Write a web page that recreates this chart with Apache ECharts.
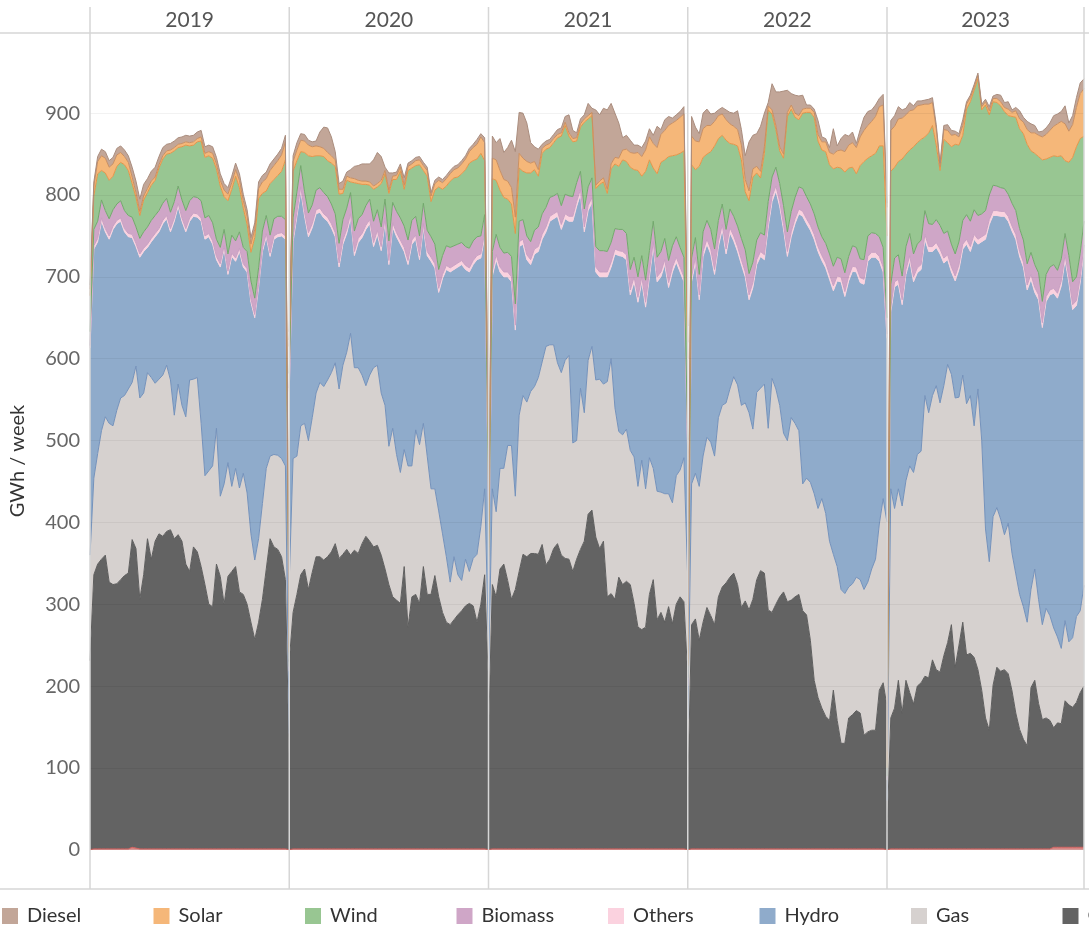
<!DOCTYPE html>
<html>
<head>
<meta charset="utf-8">
<script src="https://cdn.jsdelivr.net/npm/echarts@6/dist/echarts.min.js"></script>
<style>
  html, body { margin: 0; padding: 0; background: #fff; }
  #chart { width: 1089px; height: 930px; }
</style>
</head>
<body>
<div id="chart"></div>
<script>
// years shown as facets, weekly points per year (first and last week are partial)
const years = ['2019', '2020', '2021', '2022', '2023'];
const weeks = [1, 2, 3, 4, 5, 6, 7, 8, 9, 10, 11, 12, 13, 14, 15, 16, 17, 18, 19, 20,
  21, 22, 23, 24, 25, 26, 27, 28, 29, 30, 31, 32, 33, 34, 35, 36, 37, 38, 39, 40,
  41, 42, 43, 44, 45, 46, 47, 48, 49, 50, 51, 52, 53];
const yTicks = [0, 100, 200, 300, 400, 500, 600, 700, 800, 900];

// GWh per week, one row per year
const oil = [
  [0,1,1,1,1,1,1,1,1,1, 1,3,2,1,1,1,1,1,1,1, 1,1,1,1,1,1,1,1,1,1, 1,1,1,1,1,1,1,1,1,1, 1,1,1,1,1,1,1,1,1,1, 1,1,0],
  [0,1,1,1,1,1,1,1,1,1, 1,1,1,1,1,1,1,1,1,1, 1,1,1,1,1,1,1,1,1,1, 1,1,1,1,1,1,1,1,1,1, 1,1,1,1,1,1,1,1,1,1, 1,1,0],
  [0,1,1,1,1,1,1,1,1,1, 1,1,1,1,1,1,1,1,1,1, 1,1,1,1,1,1,1,1,1,1, 1,1,1,1,1,1,1,1,1,1, 1,1,1,1,1,1,1,1,1,1, 1,1,0],
  [0,1,1,1,1,1,1,1,1,1, 1,1,1,1,1,1,1,1,1,1, 1,1,1,1,1,1,1,1,1,1, 1,1,1,1,1,1,1,1,1,1, 1,1,1,1,1,1,1,1,1,1, 1,1,0],
  [0,1,1,1,1,1,1,1,1,1, 1,1,1,1,1,1,1,1,1,1, 1,1,1,1,1,1,1,1,1,1, 1,1,1,1,1,1,1,1,1,1, 1,1,1,1,3,3,3,3,3,3, 3,3,3]
];
const coal = [
  [231,335,348,354,359,326,323,324,329,334,337,376,366,305,335,379,354,376,385,382,388,390,379,384,376,348,339,369,363,345,323,299,296,348,333,299,333,339,345,314,311,299,277,256,277,305,342,379,369,366,357,329,102],
  [230,289,311,335,342,317,338,357,357,353,357,363,373,355,360,366,359,365,361,373,382,376,369,371,359,342,323,308,304,300,345,271,308,311,300,345,311,311,334,308,289,277,274,280,286,291,297,300,297,277,299,335,200],
  [139,323,308,342,348,328,305,317,339,360,357,361,361,360,372,347,354,367,373,359,355,354,339,354,366,376,409,414,381,367,376,308,312,305,332,323,327,323,300,271,268,271,311,329,280,289,277,296,275,299,308,302,212],
  [74,274,281,255,277,295,285,274,308,320,325,332,337,323,295,303,292,305,329,340,337,292,289,299,308,314,302,304,308,311,291,286,255,206,185,172,162,157,194,157,129,129,160,164,169,166,139,143,145,145,194,203,175],
  [22,160,172,206,166,206,191,177,199,203,211,209,231,219,216,236,252,274,222,249,277,237,239,234,219,194,160,145,200,222,217,219,214,193,166,146,134,126,197,206,178,158,160,157,146,152,151,179,174,171,177,189,197]
];
const gas = [
  [129,118,135,157,169,194,194,212,222,220,225,192,223,246,222,203,222,193,189,197,203,183,151,184,166,180,234,205,213,175,133,163,172,166,98,147,139,104,120,127,148,136,108,97,102,117,123,101,113,115,120,139,40],
  [100,188,169,182,178,182,189,200,213,212,216,219,221,207,231,241,271,223,227,206,184,203,219,220,198,200,169,206,178,160,143,197,160,201,194,175,169,129,106,105,96,80,52,77,49,37,57,39,58,83,95,105,55],
  [76,117,104,123,117,165,188,114,191,194,189,198,204,216,223,267,262,249,221,223,242,249,157,145,197,157,188,200,192,207,192,263,287,234,178,183,186,164,179,172,207,169,167,136,157,147,157,138,148,157,155,176,118],
  [86,172,178,188,203,208,212,206,219,222,220,230,240,244,247,242,241,208,229,223,231,222,286,263,234,194,197,223,212,200,155,167,193,228,231,256,248,219,166,188,188,183,160,160,163,163,178,183,197,209,203,225,225],
  [38,280,244,234,253,244,277,283,283,283,343,324,323,347,329,330,340,306,329,303,302,307,315,283,343,305,231,206,206,195,186,165,184,168,170,165,162,151,120,136,127,116,134,128,122,105,92,98,77,85,105,100,123]
];
const hydro = [
  [253,280,259,256,226,225,240,228,216,200,186,177,146,172,173,153,166,179,180,185,179,181,237,217,225,226,194,199,196,247,289,286,271,206,280,287,230,281,253,289,252,270,283,296,307,308,283,244,263,267,272,277,76],
  [230,265,293,287,253,249,232,219,208,206,194,177,154,149,148,145,141,137,153,168,191,185,148,160,174,224,222,246,266,279,242,246,271,233,226,239,245,278,270,267,312,351,379,351,376,386,354,366,359,360,328,308,165],
  [105,260,308,240,234,206,200,203,206,185,174,155,162,154,150,140,151,154,179,175,173,164,271,286,237,221,183,176,132,125,131,128,112,188,215,218,207,190,214,225,218,222,221,271,256,263,280,252,282,261,242,215,150],
  [40,247,258,228,244,236,230,222,209,215,182,191,166,163,172,154,138,173,156,161,152,246,216,242,243,249,225,221,244,265,327,311,308,311,314,291,300,320,322,349,376,363,374,382,373,363,373,392,381,369,321,277,225],
  [25,216,271,250,246,252,251,233,222,222,191,197,176,169,182,150,128,125,143,156,154,195,176,228,177,243,354,412,368,357,370,389,369,394,409,413,415,406,379,338,366,363,375,392,409,414,443,441,439,401,380,401,410]
];
const others = [
  [3,4,4,4,4,4,4,4,4,4, 4,4,4,4,4,4,4,4,4,4, 4,4,4,4,4,4,4,4,4,4, 4,4,4,4,4,4,4,4,4,4, 4,4,4,4,4,4,4,4,4,4, 4,4,1],
  [4,5,5,5,5,5,5,5,5,5, 5,5,5,5,5,5,5,5,5,5, 5,5,5,5,5,5,5,5,5,5, 5,5,5,5,5,5,5,5,5,5, 5,5,5,5,5,5,5,5,5,5, 5,5,3],
  [3,6,6,6,6,6,6,6,6,6, 6,6,6,6,6,6,6,6,6,6, 6,6,6,6,6,6,6,6,6,6, 6,6,6,6,6,6,6,6,6,6, 6,6,6,6,6,6,6,6,6,6, 6,6,4],
  [2,6,6,6,6,6,6,6,6,6, 6,6,6,6,6,6,6,6,6,6, 6,6,6,6,6,6,6,6,6,6, 6,6,6,6,6,6,6,6,6,6, 6,6,6,6,6,6,6,6,6,6, 6,6,5],
  [1,6,6,6,6,6,6,6,6,6, 6,6,6,6,6,6,6,6,6,6, 6,6,6,6,6,6,6,6,6,6, 6,6,6,6,6,6,6,6,6,6, 6,6,6,6,6,6,6,6,6,6, 6,6,6]
];
const biomass = [
  [17,20,21,22,22,21,20,20,21,22,22,21,20,19,20,21,22,22,22,21,21,20,20,21,22,22,21,20,20,21,22,22,22,21,20,20,21,22,21,20,20,21,22,20,20,21,22,22,21,21,20,20,5],
  [18,24,25,26,25,24,23,24,25,26,25,24,23,24,25,26,26,25,24,23,24,25,26,25,24,23,24,25,26,27,26,25,24,23,24,25,26,25,24,23,23,24,25,24,23,22,23,24,24,23,22,22,14],
  [12,24,25,24,23,24,25,26,25,24,23,22,23,24,25,24,23,22,22,23,24,25,24,23,22,22,23,24,25,26,26,25,24,25,26,27,26,25,24,25,26,27,26,25,24,25,26,27,26,25,24,24,17],
  [8,23,24,25,24,23,24,25,26,25,24,23,24,25,26,27,26,25,24,23,24,25,24,23,22,23,24,25,26,27,28,27,26,25,24,23,24,25,24,23,22,23,24,25,24,23,24,25,24,23,24,24,20],
  [4,28,29,30,29,28,27,28,29,30,29,28,27,28,29,30,29,28,27,28,29,30,31,30,29,28,29,30,31,30,29,28,27,28,29,28,27,26,27,28,27,26,27,28,29,28,27,26,27,28,29,30,29]
];
const wind = [
  [44,41,58,36,46,47,41,46,47,56,55,41,36,28,39,42,43,43,52,54,54,72,62,47,65,80,67,63,68,73,74,73,79,86,75,40,65,56,79,54,48,33,35,74,85,46,30,63,48,50,55,73,17],
  [33,57,38,17,48,70,59,42,39,44,44,50,58,60,32,34,13,59,43,37,26,17,39,28,53,31,58,28,39,57,45,85,64,62,87,40,66,43,66,101,81,73,81,83,82,84,94,104,98,95,101,66,53],
  [25,89,66,70,68,65,64,86,65,59,77,84,74,62,74,71,61,65,68,85,84,73,67,51,54,106,83,76,71,81,84,71,90,79,77,85,88,125,107,130,97,133,111,65,102,109,96,127,110,100,115,130,99],
  [15,114,83,132,91,81,95,126,100,84,109,80,88,98,96,71,89,104,82,67,100,112,77,46,40,58,141,125,98,82,92,103,112,118,105,106,112,109,119,110,111,123,108,96,90,114,120,95,94,98,111,124,100],
  [10,138,111,114,143,113,102,131,124,123,90,111,121,91,67,115,108,119,134,118,104,129,146,146,167,127,129,98,102,102,100,94,96,106,114,122,130,146,124,136,142,173,141,134,133,139,126,89,114,152,159,140,104]
];
const solar = [
  [8,12,15,18,18,16,15,14,12,10,10,8,6,5,5,5,5,4,4,4,4,4,4,4,4,4,4,4,4,5,5,5,6,6,7,8,8,8,8,9,9,10,10,10,12,14,15,16,17,18,20,22,6],
  [8,12,13,14,14,13,12,12,11,10,10,9,8,6,5,5,5,5,4,4,4,4,4,4,4,4,4,4,5,5,5,5,5,6,6,6,7,7,8,8,8,9,9,10,11,12,13,14,16,18,20,22,8],
  [8,25,25,24,22,22,20,20,18,16,14,12,10,8,6,5,5,5,4,4,4,4,4,4,4,4,4,4,4,4,5,5,6,8,10,12,15,18,20,22,24,26,28,30,32,34,36,38,40,42,44,45,20],
  [8,35,35,30,35,35,32,30,28,26,25,24,22,20,18,15,12,10,8,8,8,5,5,5,5,5,5,5,5,5,5,5,5,6,8,10,12,15,18,20,22,25,28,30,32,35,38,40,42,45,48,50,35],
  [10,50,50,52,50,48,48,45,45,42,40,35,28,20,5,12,15,14,12,10,12,6,5,4,4,4,4,5,4,5,5,5,8,5,8,12,14,18,22,25,26,28,30,33,36,40,42,45,38,40,48,55,58]
];
const diesel = [
  [5,5,6,8,8,8,8,8,8,8, 8,12,14,15,14,12,12,12,10,10, 8,8,8,8,8,8,8,8,8,8, 8,8,8,8,8,8,8,8,8,8, 8,8,8,8,8,8,8,8,8,8, 8,8,3],
  [10,7,9,8,8,6,6,6,18,26,30,23,10,7,10,5,10,15,18,21,21,22,32,38,29,4,21,4,4,4,9,4,4,4,4,4,4,4,4,4,4,4,4,4,4,4,4,4,4,6,4,6,10],
  [12,27,21,39,33,41,58,80,50,55,47,25,18,25,5,5,5,5,6,6,7,22,10,6,6,5,15,5,92,81,85,97,74,54,43,15,17,15,10,9,11,11,10,10,26,6,13,11,6,7,7,9,20],
  [10,24,17,10,19,20,14,10,7,8,12,14,16,23,19,29,60,41,40,55,41,4,32,41,67,77,27,14,22,24,17,4,4,4,17,6,4,6,31,6,14,21,11,13,5,9,16,17,14,14,10,13,5],
  [10,12,13,15,10,8,10,5,6,5,5,6,6,5,4,5,7,6,4,4,7,3,3,3,3,3,3,5,3,5,8,6,9,3,4,10,6,10,11,9,4,7,8,9,13,12,12,22,10,11,12,13,12]
];

// stacking order, bottom to top
const layers = [
  { name: 'Oil',     data: oil,     fill: '#d88583', line: '#cf5f5c' },
  { name: 'Coal',    data: coal,    fill: '#636363', line: '#5e5e5e' },
  { name: 'Gas',     data: gas,     fill: '#d6d1cf', line: '#7592bb' },
  { name: 'Hydro',   data: hydro,   fill: '#8fabcb', line: '#f6d3df' },
  { name: 'Others',  data: others,  fill: '#fbd2df', line: '#c9a0c3' },
  { name: 'Biomass', data: biomass, fill: '#cfa6c7', line: '#72a86c' },
  { name: 'Wind',    data: wind,    fill: '#98c692', line: '#e3954a' },
  { name: 'Solar',   data: solar,   fill: '#f5b779', line: '#c98f62' },
  { name: 'Diesel',  data: diesel,  fill: '#c2a698', line: '#aa8d7e' }
];
const legendOrder = ['Diesel', 'Solar', 'Wind', 'Biomass', 'Others', 'Hydro', 'Gas', 'Coal', 'Oil'];

const panelLeft = [90, 289.25, 488.5, 687.75, 887];
const panelWidth = [199.25, 199.25, 199.25, 199.25, 197];
const frame = '#d6d6d6';

const series = [];
years.forEach((yr, g) => {
  layers.forEach((ly, k) => {
    const s = {
      name: ly.name,
      type: 'line',
      xAxisIndex: g,
      yAxisIndex: g,
      stack: 'year' + g,
      data: ly.data[g],
      symbol: 'none',
      lineStyle: { color: ly.line, width: 1 },
      itemStyle: { color: ly.fill },
      areaStyle: { color: ly.fill, opacity: 1 },
      emphasis: { disabled: true },
      silent: true
    };
    if (k === layers.length - 1) {
      // faint horizontal grid lines drawn over the areas
      s.markLine = {
        silent: true,
        symbol: 'none',
        label: { show: false },
        lineStyle: { color: 'rgba(0,0,0,0.05)', type: 'solid', width: 1 },
        data: yTicks.map(v => ({ yAxis: v }))
      };
    }
    series.push(s);
  });
});

const graphic = [
  { type: 'line', silent: true, shape: { x1: 0, y1: 33, x2: 1089, y2: 33 }, style: { stroke: frame, lineWidth: 1.5 } },
  { type: 'line', silent: true, shape: { x1: 0, y1: 889, x2: 1089, y2: 889 }, style: { stroke: frame, lineWidth: 1.5 } }
];
panelLeft.concat([panelLeft[4] + panelWidth[4]]).forEach(x => {
  graphic.push({ type: 'line', silent: true, z: 10, shape: { x1: x, y1: 7, x2: x, y2: 889 }, style: { stroke: frame, lineWidth: 1.5 } });
});
years.forEach((yr, g) => {
  graphic.push({
    type: 'text', silent: true,
    style: { text: yr, x: panelLeft[g] + panelWidth[g] / 2, y: 20, align: 'center', verticalAlign: 'middle',
             font: '21px Lato', fill: '#555' }
  });
});

// one legend per entry so the entries sit at an even pitch
const legends = legendOrder.map((name, i) => ({
  data: [name],
  left: 2 + 151.5 * i,
  top: 906,
  padding: 0,
  icon: 'rect',
  itemWidth: 16,
  itemHeight: 16,
  selectedMode: false,
  itemStyle: { borderWidth: 0 },
  textStyle: { color: '#333', fontSize: 20, fontFamily: 'Lato', padding: [0, 0, 0, 4] }
}));

const chart = echarts.init(document.getElementById('chart'));
chart.setOption({
  animation: false,
  backgroundColor: '#fff',
  textStyle: { fontFamily: 'Lato' },
  grid: years.map((yr, g) => ({ left: panelLeft[g], top: 33, width: panelWidth[g], height: 856 })),
  xAxis: years.map((yr, g) => ({
    type: 'category', gridIndex: g, data: weeks, boundaryGap: false, show: false
  })),
  yAxis: years.map((yr, g) => ({
    type: 'value', gridIndex: g, min: -48, max: 998, show: g === 0,
    axisLine: { show: false },
    axisTick: { show: false },
    splitLine: { show: false },
    axisLabel: { customValues: yTicks, color: '#666', fontSize: 20, fontFamily: 'Lato', margin: 10 },
    name: g === 0 ? 'GWh / week' : '',
    nameLocation: 'middle',
    nameGap: 62,
    nameTextStyle: { color: '#333', fontSize: 20, fontFamily: 'Lato' }
  })),
  legend: legends,
  graphic: graphic,
  series: series
});
</script>
</body>
</html>
